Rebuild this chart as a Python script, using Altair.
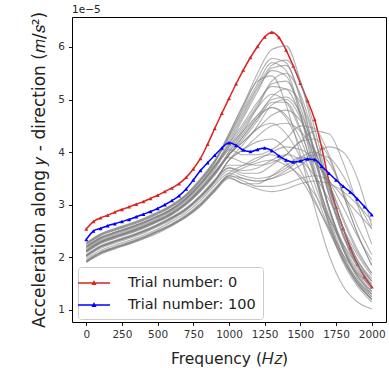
import altair as alt
import pandas as pd

# ---------------- data (values in units of 1e-5 m/s^2) ----------------
FREQ_FINE = list(range(0, 2001, 50))      # for trial 0 / trial 100
FREQ_COARSE = list(range(0, 2001, 100))   # for the intermediate trials

TRIAL_0 = [2.54, 2.68, 2.75, 2.80, 2.86, 2.91, 2.96, 3.01, 3.06, 3.12,
           3.18, 3.25, 3.32, 3.40, 3.52, 3.68, 3.88, 4.15, 4.45, 4.74,
           5.02, 5.30, 5.56, 5.80, 6.01, 6.19, 6.28, 6.18, 5.94, 5.64,
           5.31, 4.98, 4.62, 4.08, 3.45, 2.95, 2.55, 2.18, 1.87, 1.63, 1.44]

TRIAL_100 = [2.34, 2.50, 2.55, 2.60, 2.64, 2.68, 2.72, 2.77, 2.82, 2.87,
             2.93, 3.00, 3.08, 3.17, 3.30, 3.47, 3.65, 3.80, 3.94, 4.08,
             4.18, 4.13, 4.04, 4.01, 4.05, 4.08, 4.03, 3.93, 3.85, 3.81,
             3.83, 3.87, 3.86, 3.73, 3.60, 3.47, 3.35, 3.24, 3.11, 2.96, 2.81]

GRAY_A1 = [2.28, 2.45, 2.55, 2.64, 2.74, 2.86, 3.00, 3.20, 3.50, 3.85, 4.35, 4.90, 5.50, 5.95, 6.02, 5.35, 4.30, 3.20, 2.40, 1.85, 1.48]
GRAY_A2 = [2.26, 2.43, 2.53, 2.62, 2.72, 2.84, 2.98, 3.18, 3.47, 3.82, 4.30, 4.85, 5.40, 5.78, 5.70, 5.00, 3.95, 2.90, 2.15, 1.65, 1.30]
GRAY_A3 = [2.20, 2.37, 2.47, 2.56, 2.66, 2.78, 2.92, 3.12, 3.40, 3.74, 4.20, 4.70, 5.20, 5.55, 5.45, 4.70, 3.60, 2.60, 1.90, 1.45, 1.15]
GRAY_A4 = [2.24, 2.41, 2.51, 2.60, 2.70, 2.82, 2.96, 3.16, 3.45, 3.80, 4.35, 4.90, 5.35, 5.45, 4.90, 3.95, 2.95, 2.05, 1.45, 1.15, 1.02]
GRAY_A5 = [2.18, 2.35, 2.45, 2.54, 2.64, 2.76, 2.90, 3.10, 3.37, 3.70, 4.15, 4.55, 4.95, 5.25, 5.20, 4.70, 3.85, 2.95, 2.25, 1.75, 1.40]
GRAY_A6 = [2.12, 2.29, 2.39, 2.48, 2.58, 2.70, 2.84, 3.03, 3.29, 3.60, 4.00, 4.35, 4.70, 5.00, 5.05, 4.75, 4.05, 3.20, 2.45, 1.90, 1.55]
GRAY_A7 = [2.10, 2.27, 2.37, 2.46, 2.56, 2.68, 2.82, 3.01, 3.26, 3.57, 3.95, 4.20, 4.45, 4.70, 4.80, 4.60, 4.05, 3.30, 2.55, 1.95, 1.60]
GRAY_A8 = [2.16, 2.33, 2.43, 2.52, 2.62, 2.74, 2.88, 3.08, 3.34, 3.67, 4.10, 4.40, 4.70, 4.85, 4.65, 4.10, 3.40, 2.65, 2.00, 1.55, 1.25]
GRAY_A9 = [2.03, 2.20, 2.30, 2.39, 2.49, 2.61, 2.75, 2.92, 3.16, 3.45, 3.85, 4.05, 4.30, 4.50, 4.55, 4.40, 4.00, 3.40, 2.70, 2.10, 1.70]
GRAY_A10 = [2.27, 2.44, 2.54, 2.63, 2.73, 2.85, 2.99, 3.19, 3.48, 3.83, 4.25, 4.75, 5.25, 5.65, 5.75, 5.35, 4.45, 3.35, 2.45, 1.85, 1.50]
GRAY_A11 = [2.13, 2.30, 2.40, 2.49, 2.59, 2.71, 2.85, 3.04, 3.30, 3.62, 3.95, 4.25, 4.60, 4.95, 4.95, 4.45, 3.55, 2.65, 1.95, 1.50, 1.20]
GRAY_A12 = [2.21, 2.38, 2.48, 2.57, 2.67, 2.79, 2.93, 3.13, 3.41, 3.75, 4.15, 4.65, 5.15, 5.60, 5.65, 5.05, 4.00, 2.95, 2.15, 1.60, 1.25]
GRAY_A13 = [2.25, 2.42, 2.52, 2.61, 2.71, 2.83, 2.97, 3.17, 3.46, 3.81, 4.30, 4.80, 5.30, 5.70, 5.55, 4.75, 3.70, 2.70, 2.00, 1.50, 1.20]
GRAY_A14 = [2.11, 2.28, 2.38, 2.47, 2.57, 2.69, 2.83, 3.02, 3.28, 3.59, 4.00, 4.40, 4.85, 5.30, 5.35, 4.85, 3.95, 2.95, 2.20, 1.70, 1.35]
GRAY_A15 = [2.19, 2.36, 2.46, 2.55, 2.65, 2.77, 2.91, 3.11, 3.38, 3.72, 4.10, 4.50, 4.90, 5.35, 5.50, 5.10, 4.25, 3.25, 2.40, 1.80, 1.40]
GRAY_A16 = [2.09, 2.26, 2.36, 2.45, 2.55, 2.67, 2.81, 3.00, 3.25, 3.56, 3.95, 4.30, 4.65, 5.05, 5.20, 4.95, 4.25, 3.35, 2.55, 1.95, 1.55]
GRAY_A17 = [2.02, 2.19, 2.29, 2.38, 2.48, 2.60, 2.74, 2.91, 3.15, 3.44, 3.85, 4.15, 4.50, 4.90, 5.00, 4.65, 3.85, 2.95, 2.20, 1.65, 1.30]
GRAY_B1 = [2.03, 2.20, 2.30, 2.39, 2.49, 2.61, 2.75, 2.92, 3.16, 3.45, 3.70, 3.60, 3.60, 3.75, 3.95, 4.20, 4.40, 4.35, 3.80, 3.00, 2.25]
GRAY_B2 = [1.92, 2.08, 2.18, 2.27, 2.37, 2.49, 2.62, 2.78, 3.00, 3.28, 3.55, 3.45, 3.35, 3.35, 3.40, 3.50, 3.55, 3.45, 3.15, 2.85, 2.55]
GRAY_B3 = [2.00, 2.17, 2.27, 2.36, 2.46, 2.58, 2.72, 2.89, 3.12, 3.41, 3.65, 3.55, 3.50, 3.55, 3.70, 3.90, 4.00, 3.80, 3.25, 2.60, 2.05]
GRAY_B4 = [1.90, 2.06, 2.16, 2.25, 2.35, 2.46, 2.60, 2.76, 2.97, 3.25, 3.50, 3.40, 3.30, 3.25, 3.30, 3.40, 3.45, 3.40, 3.25, 3.00, 2.70]
GRAY_B5 = [2.12, 2.29, 2.39, 2.48, 2.58, 2.70, 2.84, 3.03, 3.29, 3.60, 3.90, 3.80, 3.75, 3.80, 3.95, 4.20, 4.25, 3.90, 3.20, 2.45, 1.85]
GRAY_B6 = [2.20, 2.37, 2.47, 2.56, 2.66, 2.78, 2.92, 3.12, 3.40, 3.74, 4.05, 3.95, 3.95, 4.05, 4.25, 4.50, 4.45, 3.95, 3.20, 2.45, 1.85]
GRAY_B7 = [1.94, 2.10, 2.20, 2.29, 2.39, 2.51, 2.64, 2.81, 3.03, 3.31, 3.55, 3.50, 3.45, 3.50, 3.65, 3.85, 3.95, 3.90, 3.55, 3.05, 2.55]
GRAY_B8 = [2.05, 2.22, 2.32, 2.41, 2.51, 2.63, 2.77, 2.94, 3.18, 3.48, 3.75, 3.75, 3.85, 4.00, 4.10, 4.05, 3.85, 3.40, 2.75, 2.15, 1.70]
GRAY_B9 = [1.97, 2.13, 2.23, 2.32, 2.42, 2.54, 2.68, 2.85, 3.08, 3.37, 3.60, 3.50, 3.45, 3.50, 3.60, 3.75, 3.95, 4.10, 4.00, 3.50, 2.60]
GRAY_B10 = [1.91, 2.07, 2.17, 2.26, 2.36, 2.48, 2.61, 2.77, 2.98, 3.26, 3.52, 3.40, 3.40, 3.55, 3.75, 3.90, 3.80, 3.45, 2.95, 2.40, 1.95]
GRAY_B11 = [2.04, 2.21, 2.31, 2.40, 2.50, 2.62, 2.76, 2.93, 3.17, 3.46, 3.70, 3.65, 3.70, 3.85, 3.95, 3.85, 3.55, 3.10, 2.55, 2.05, 1.65]
GRAY_C1 = [2.03, 2.20, 2.30, 2.39, 2.49, 2.61, 2.75, 2.92, 3.16, 3.45, 3.85, 4.05, 4.20, 4.25, 4.05, 3.65, 3.10, 2.50, 1.95, 1.55, 1.30]
GRAY_C2 = [1.92, 2.08, 2.18, 2.27, 2.37, 2.49, 2.62, 2.78, 3.00, 3.28, 3.60, 3.75, 3.90, 3.95, 3.80, 3.50, 3.05, 2.55, 2.05, 1.70, 1.45]
GRAY_C3 = [2.12, 2.29, 2.39, 2.48, 2.58, 2.70, 2.84, 3.03, 3.29, 3.60, 3.95, 4.30, 4.65, 4.85, 4.70, 4.25, 3.55, 2.80, 2.15, 1.65, 1.35]
GRAY_C4 = [2.20, 2.37, 2.47, 2.56, 2.66, 2.78, 2.92, 3.12, 3.40, 3.74, 4.05, 4.45, 4.85, 5.10, 4.95, 4.40, 3.60, 2.75, 2.05, 1.55, 1.20]
GRAY_C5 = [2.14, 2.31, 2.41, 2.50, 2.60, 2.72, 2.86, 3.05, 3.31, 3.63, 3.95, 4.20, 4.45, 4.55, 4.35, 3.90, 3.25, 2.55, 1.95, 1.50, 1.20]
GRAY_C6 = [1.93, 2.09, 2.19, 2.28, 2.38, 2.50, 2.63, 2.79, 3.01, 3.29, 3.55, 3.70, 3.80, 3.85, 3.75, 3.55, 3.20, 2.75, 2.25, 1.85, 1.55]

GRAY_TRIALS = [GRAY_A1, GRAY_A2, GRAY_A3, GRAY_A4, GRAY_A5, GRAY_A6, GRAY_A7,
               GRAY_A8, GRAY_A9, GRAY_A10, GRAY_A11, GRAY_A12, GRAY_A13,
               GRAY_A14, GRAY_A15, GRAY_A16, GRAY_A17,
               GRAY_B1, GRAY_B2, GRAY_B3, GRAY_B4, GRAY_B5, GRAY_B6, GRAY_B7,
               GRAY_B8, GRAY_B9, GRAY_B10, GRAY_B11,
               GRAY_C1, GRAY_C2, GRAY_C3, GRAY_C4, GRAY_C5, GRAY_C6]

LABEL_0 = "Trial number: 0"
LABEL_100 = "Trial number: 100"
X_TICKS = [0, 250, 500, 750, 1000, 1250, 1500, 1750, 2000]
Y_TICKS = [1, 2, 3, 4, 5, 6]

# ---------------- tables ----------------
df_main = pd.DataFrame(
    [{"freq": f, "acc": v, "trial": LABEL_0} for f, v in zip(FREQ_FINE, TRIAL_0)]
    + [{"freq": f, "acc": v, "trial": LABEL_100} for f, v in zip(FREQ_FINE, TRIAL_100)]
)
df_gray = pd.DataFrame(
    [{"freq": f, "acc": v, "trial": i}
     for i, series in enumerate(GRAY_TRIALS) for f, v in zip(FREQ_COARSE, series)]
)

FONT = "DejaVu Sans"
x_enc = alt.X("freq:Q", scale=alt.Scale(domain=[-100, 2100], nice=False, zero=False),
              axis=alt.Axis(values=X_TICKS, format="d", title="Frequency (𝐻𝑧)",
                            titleY=41, titleFontSize=15.5,
                            titleBaseline="alphabetic", labelOverlap=False))
y_enc = alt.Y("acc:Q", scale=alt.Scale(domain=[0.77, 6.57], nice=False, zero=False),
              axis=alt.Axis(values=Y_TICKS, format="d", labelOverlap=False,
                            title="Acceleration along 𝑦 - direction (𝑚/𝑠²)",
                            titleFontSize=17, titleX=-28,
                            titleBaseline="alphabetic"))

color_scale = alt.Scale(domain=[LABEL_0, LABEL_100], range=["#dd2222", "#0000ff"])
legend = alt.Legend(
    title=None, orient="none", legendX=6, legendY=250,
    symbolType="M-2,0L2,0M-0.16,0.15L0,-0.17L0.16,0.15Z",
    symbolSize=256, symbolStrokeWidth=1.5, labelOffset=25,
    labelFontSize=14.5, labelFont=FONT, labelColor="#222",
    fillColor="white", strokeColor="#cccccc", cornerRadius=3,
    padding=7, rowPadding=6, offset=0,
)

main = alt.Chart(df_main)
red_line = main.transform_filter(alt.datum.trial == LABEL_0).mark_line(
    strokeWidth=1.5, interpolate="monotone").encode(
    x=x_enc, y=y_enc, color=alt.Color("trial:N", scale=color_scale, legend=legend))
red_pts = main.transform_filter(alt.datum.trial == LABEL_0).mark_point(
    shape="triangle-up", filled=True, size=16, opacity=1).encode(
    x=x_enc, y=y_enc, color=alt.Color("trial:N", scale=color_scale, legend=None))

gray = alt.Chart(df_gray).mark_line(
    color="#808080", strokeWidth=1.1, opacity=0.6, interpolate="monotone").encode(
    x=x_enc, y=y_enc, detail="trial:N")

blue_line = main.transform_filter(alt.datum.trial == LABEL_100).mark_line(
    strokeWidth=1.5, interpolate="monotone").encode(
    x=x_enc, y=y_enc, color=alt.Color("trial:N", scale=color_scale, legend=legend))
blue_pts = main.transform_filter(alt.datum.trial == LABEL_100).mark_point(
    shape="triangle-up", filled=True, size=16, opacity=1).encode(
    x=x_enc, y=y_enc, color=alt.Color("trial:N", scale=color_scale, legend=None))

offset_text = alt.Chart(pd.DataFrame({"t": ["1e−5"]})).mark_text(
    align="left", baseline="bottom", font=FONT, fontSize=10.5, color="#222").encode(
    text="t:N", x=alt.value(0), y=alt.value(-2))

chart = alt.layer(red_line, red_pts, gray, blue_line, blue_pts, offset_text).properties(
    width=314, height=305,
    background="white",
    autosize=alt.AutoSizeParams(type="none"),
    padding={"left": 72, "top": 17, "right": 3, "bottom": 46},
).configure_view(stroke="black", strokeWidth=1).configure_axis(
    grid=False, domain=False, tickColor="black", tickSize=3.5, tickWidth=0.9,
    labelFont=FONT, labelFontSize=10.5, labelColor="#333", labelPadding=4,
    titleFont=FONT, titleFontWeight="normal", titleColor="#222",
)

chart.save("out.html", embed_options={"renderer": "svg", "actions": False})
